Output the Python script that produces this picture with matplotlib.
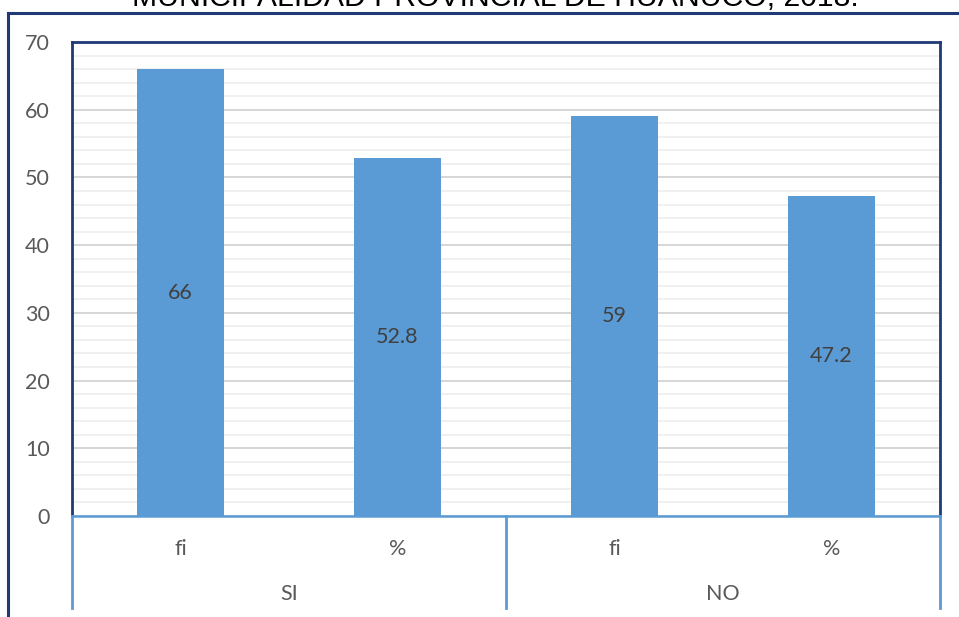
import matplotlib
matplotlib.use("Agg")
import matplotlib.pyplot as plt
from matplotlib.lines import Line2D

# Data
groups = ["SI", "NO"]
measures = ["fi", "%", "fi", "%"]
values = [66, 52.8, 59, 47.2]
value_labels = ["66", "52.8", "59", "47.2"]
title = "MUNICIPALIDAD PROVINCIAL DE HUANUCO, 2018."
y_ticks = [0, 10, 20, 30, 40, 50, 60, 70]

W, H = 959, 617
fig = plt.figure(figsize=(W / 100, H / 100), dpi=100)
fig.patch.set_facecolor("white")

bar_color = "#5B9BD5"
navy = "#1F3A75"
text_color = "#595959"
label_font = ["Lato", "DejaVu Sans"]
label_size = 15.5

# plot area in pixel coordinates
left_px, right_px, top_px, bottom_px = 72, 940, 42, 516
ax = fig.add_axes([left_px / W, 1 - bottom_px / H,
                   (right_px - left_px) / W, (bottom_px - top_px) / H])

x = list(range(len(values)))
ax.bar(x, values, width=0.4, color=bar_color, zorder=3)
ax.set_xlim(-0.5, len(values) - 0.5)
ax.set_ylim(0, 70)

# gridlines: major every 10, minor every 2
ax.set_yticks(y_ticks)
ax.set_yticks([v for v in range(0, 71, 2)], minor=True)
ax.yaxis.grid(True, which="major", color="#D0D0D0", linewidth=1.2, zorder=0)
ax.yaxis.grid(True, which="minor", color="#EDEDED", linewidth=1.2, zorder=0)
ax.tick_params(axis="y", which="both", length=0, pad=16)
ax.tick_params(axis="x", which="both", length=0)
ax.set_xticks([])
for t in ax.get_yticklabels():
    t.set_family(label_font)
    t.set_fontsize(label_size)
    t.set_color(text_color)

for side in ("left", "top", "right"):
    ax.spines[side].set_color(navy)
    ax.spines[side].set_linewidth(2)
ax.spines["bottom"].set_color(bar_color)
ax.spines["bottom"].set_linewidth(1.8)
ax.spines["bottom"].set_zorder(4)

# value labels centred in each bar
for xi, v, lab in zip(x, values, value_labels):
    ax.text(xi, v / 2, lab, ha="center", va="center", fontsize=label_size,
            color="#404040", family=label_font, zorder=5)

# multi-level category axis below the plot
for xi, m in zip(x, measures):
    fig.text((left_px + (xi + 0.5) * (right_px - left_px) / 4) / W,
             1 - 549 / H, m, ha="center", va="center", fontsize=label_size,
             color=text_color, family=label_font)
for gi, g in enumerate(groups):
    fig.text((left_px + (gi + 0.5) * (right_px - left_px) / 2) / W,
             1 - 594 / H, g, ha="center", va="center", fontsize=label_size,
             color=text_color, family=label_font)
for px in (left_px, (left_px + right_px) / 2, right_px):
    fig.add_artist(Line2D([px / W, px / W], [1 - bottom_px / H, 1 - 608 / H],
                          color=bar_color, linewidth=2, transform=fig.transFigure))

# outer chart frame (left and top edges)
fig.add_artist(Line2D([8 / W, 8 / W], [0, 1 - 13 / H], color=navy,
                      linewidth=2.2, transform=fig.transFigure))
fig.add_artist(Line2D([8 / W, 1], [1 - 13 / H, 1 - 13 / H], color=navy,
                      linewidth=2.2, transform=fig.transFigure))

# title, partly above the top edge of the figure
fig.text(495 / W, 1 - 6 / H, title, ha="center", va="baseline",
         fontsize=21.7, color="black", family=["Liberation Sans", "DejaVu Sans"])

fig.savefig("out.png", dpi=100, facecolor="white")
